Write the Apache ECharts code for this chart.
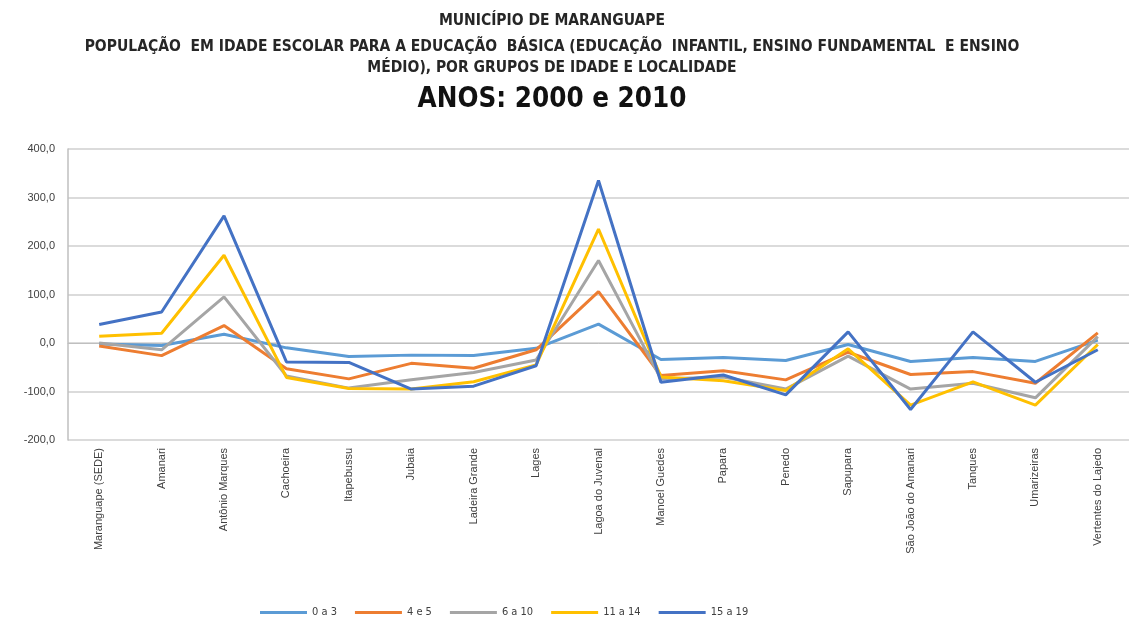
<!DOCTYPE html>
<html>
<head>
<meta charset="utf-8">
<script src="https://cdn.jsdelivr.net/npm/echarts@6/dist/echarts.min.js"></script>
<style>
  html, body { margin: 0; padding: 0; background: #fff; }
  #chart { width: 1129px; height: 619px; }
</style>
</head>
<body>
<div id="chart"></div>
<script>
// localidades
const localidades = [
    'Maranguape (SEDE)', 'Amanari', 'Antônio Marques', 'Cachoeira', 'Itapebussu',
    'Jubaia', 'Ladeira Grande', 'Lages', 'Lagoa do Juvenal', 'Manoel Guedes',
    'Papara', 'Penedo', 'Sapupara', 'São João do Amanari', 'Tanques',
    'Umarizeiras', 'Vertentes do Lajedo'
];

const grupos = ['0 a 3', '4 e 5', '6 a 10', '11 a 14', '15 a 19'];

// variação por grupo de idade
const v0a3 = [-2, -5, 18, -10, -28, -25, -26, -11, 39, -34, -30, -36, -3, -38, -30, -38, 6];
const v4e5 = [-6, -26, 36, -53, -74, -42, -52, -14, 106, -67, -57, -76, -19, -65, -59, -83, 21];
const v6a10 = [0, -14, 95, -68, -93, -76, -61, -35, 170, -74, -70, -95, -27, -95, -83, -113, 13];
const v11a14 = [14, 20, 181, -71, -94, -95, -80, -45, 235, -70, -78, -98, -12, -128, -80, -128, -3];
const v15a19 = [38, 64, 262, -39, -40, -95, -89, -47, 335, -81, -66, -107, 23, -137, 23, -81, -14];

const titulos = [
    'MUNICÍPIO DE MARANGUAPE',
    'POPULAÇÃO  EM IDADE ESCOLAR PARA A EDUCAÇÃO  BÁSICA (EDUCAÇÃO  INFANTIL, ENSINO FUNDAMENTAL  E ENSINO',
    'MÉDIO), POR GRUPOS DE IDADE E LOCALIDADE',
];

const cores = ['#5B9BD5', '#ED7D31', '#A5A5A5', '#FFC000', '#4472C4'];
const valores = [v0a3, v4e5, v6a10, v11a14, v15a19];

const chart = echarts.init(document.getElementById('chart'));

const tituloFonte = '"DejaVu Sans Condensed", "DejaVu Sans", sans-serif';
const topos = [8, 34, 55];

const option = {
    animation: false,
    backgroundColor: '#fff',
    title: titulos.map((t, i) => ({
        text: t,
        left: 547,
        top: topos[i],
        textAlign: 'center',
        textStyle: {
            fontFamily: tituloFonte,
            fontSize: 15.5,
            fontWeight: 'bold',
            color: '#262626',
        },
    })).concat([{
        text: 'ANOS: 2000 e 2010',
        left: 547,
        top: 81,
        textAlign: 'center',
        textStyle: {
            fontFamily: tituloFonte,
            fontSize: 27.5,
            fontWeight: 'bold',
            color: '#111',
        },
    }]),
    legend: {
        data: grupos,
        top: 602,
        left: 255,
        itemWidth: 47,
        itemHeight: 3,
        itemGap: 18,
        icon: 'rect',
        textStyle: {
            fontFamily: tituloFonte,
            fontSize: 11,
            color: '#404040',
        },
    },
    grid: {
        left: 68,
        right: -8,
        top: 149,
        bottom: 179,
    },
    xAxis: {
        type: 'category',
        data: localidades,
        boundaryGap: true,
        axisLine: { lineStyle: { color: '#bfbfbf', width: 1 } },
        axisTick: { show: false },
        axisLabel: {
            rotate: 90,
            interval: 0,
            margin: 8,
            fontFamily: 'Arial, "Liberation Sans", sans-serif',
            fontSize: 11,
            color: '#404040',
        },
    },
    yAxis: {
        type: 'value',
        min: -200,
        max: 400,
        interval: 100,
        axisLine: { show: true, lineStyle: { color: '#bfbfbf', width: 1.5 } },
        axisTick: { show: false },
        splitLine: { lineStyle: { color: '#cfcfcf', width: 1.5 } },
        axisLabel: {
            margin: 13,
            fontFamily: 'Arial, "Liberation Sans", sans-serif',
            fontSize: 11,
            color: '#404040',
            formatter: v => v.toFixed(1).replace('.', ','),
        },
    },
    series: grupos.map((nome, i) => ({
        name: nome,
        type: 'line',
        data: valores[i],
        symbol: 'none',
        lineStyle: { color: cores[i], width: 3 },
        itemStyle: { color: cores[i] },
    })),
};

chart.setOption(option);
</script>
</body>
</html>
